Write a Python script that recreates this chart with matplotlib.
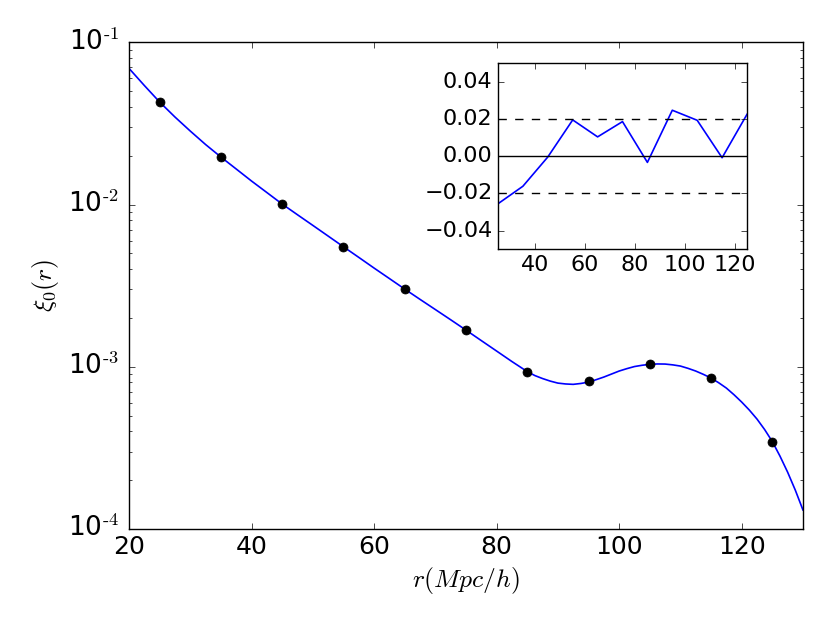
import matplotlib
matplotlib.use("Agg")
import matplotlib.pyplot as plt

# Measured data points (monopole correlation function)
r_data = [25, 35, 45, 55, 65, 75, 85, 95, 105, 115, 125]
xi_data = [0.04266, 0.01963, 0.01007, 0.005493, 0.003013, 0.001683,
           0.000932, 0.000816, 0.001043, 0.000848, 0.000345]

# Model curve
r_model = [20, 22.5, 25, 27.5, 30, 32.5, 35, 37.5, 40, 42.5, 45, 47.5, 50,
           52.5, 55, 57.5, 60, 62.5, 65, 67.5, 70, 72.5, 75, 77.5, 80, 82.5,
           85, 86.25, 87.5, 88.75, 90, 91.25, 92.5, 93.75, 95, 96.25, 97.5,
           98.75, 100, 101.25, 102.5, 103.75, 105, 106.25, 107.5, 108.75,
           110, 111.25, 112.5, 113.75, 115, 116.25, 117.5, 118.75, 120,
           121.25, 122.5, 123.75, 125, 126.25, 127.5, 128.75, 130]
xi_model = [0.0691, 0.0542, 0.04285, 0.03464, 0.02838, 0.02344, 0.01963,
            0.01656, 0.01396, 0.01186, 0.01007, 0.00865, 0.007441, 0.006394,
            0.005493, 0.004725, 0.004059, 0.003498, 0.003013, 0.002603,
            0.002253, 0.001949, 0.001683, 0.001450, 0.001250, 0.001077,
            0.000934, 0.0008824, 0.000846, 0.000816, 0.000793, 0.0007834,
            0.000779, 0.0007889, 0.000804, 0.0008325, 0.000864, 0.0009016,
            0.000941, 0.0009734, 0.001003, 0.0010214, 0.001035, 0.0010406,
            0.001039, 0.0010273, 0.001010, 0.0009775, 0.000941, 0.0008977,
            0.000852, 0.0007969, 0.000739, 0.0006722, 0.000606, 0.0005408,
            0.000476, 0.0004100, 0.000346, 0.0002814, 0.000224, 0.0001737,
            0.000131]

# Residuals shown in the inset
resid = [-0.0256, -0.0162, -0.0005, 0.0194, 0.0103, 0.0185, -0.0034,
         0.0246, 0.0192, -0.0009, 0.0224]

inset_xticks = [40, 60, 80, 100, 120]
inset_yticks = [-0.04, -0.02, 0.0, 0.02, 0.04]
main_xticks = [20, 40, 60, 80, 100, 120]
main_yticks = [1e-4, 1e-3, 1e-2, 1e-1]
main_ylabels = ['10$^{\\text{-}4}$', '10$^{\\text{-}3}$',
                '10$^{\\text{-}2}$', '10$^{\\text{-}1}$']

plt.style.use('classic')
plt.rcParams['figure.facecolor'] = 'white'
plt.rcParams['savefig.facecolor'] = 'white'
plt.rcParams['mathtext.fontset'] = 'cm'

fig = plt.figure(figsize=(8.3, 6.23), dpi=100)
ax = fig.add_axes([0.1554, 0.1509, 0.812, 0.7812])
ax.plot(r_model, xi_model, color='b', lw=1.2)
ax.plot(r_data, xi_data, 'o', color='k', markersize=6.5, markeredgecolor='k')
ax.set_yscale('log')
ax.set_xlim(20, 130)
ax.set_ylim(1e-4, 1e-1)
ax.set_xticks(main_xticks)
ax.set_yticks(main_yticks)
ax.set_yticklabels(main_ylabels)
ax.tick_params(axis='x', labelsize=18)
ax.tick_params(axis='y', labelsize=19, pad=7)
ax.set_xlabel(r'$r(Mpc/h)$', fontsize=18.5)
ax.set_ylabel(r'$\xi_0(r)$', fontsize=18.5)

ins = fig.add_axes([0.6, 0.6, 0.3, 0.299])
ins.plot(r_data, resid, color='b', lw=1.2)
ins.axhline(0.0, color='k', lw=1.0)
ins.axhline(0.02, color='k', lw=1.0, ls='--')
ins.axhline(-0.02, color='k', lw=1.0, ls='--')
ins.set_xlim(25, 125)
ins.set_ylim(-0.05, 0.05)
ins.set_xticks(inset_xticks)
ins.set_yticks(inset_yticks)
ins.tick_params(labelsize=16)

fig.savefig('out.png', dpi=100)
